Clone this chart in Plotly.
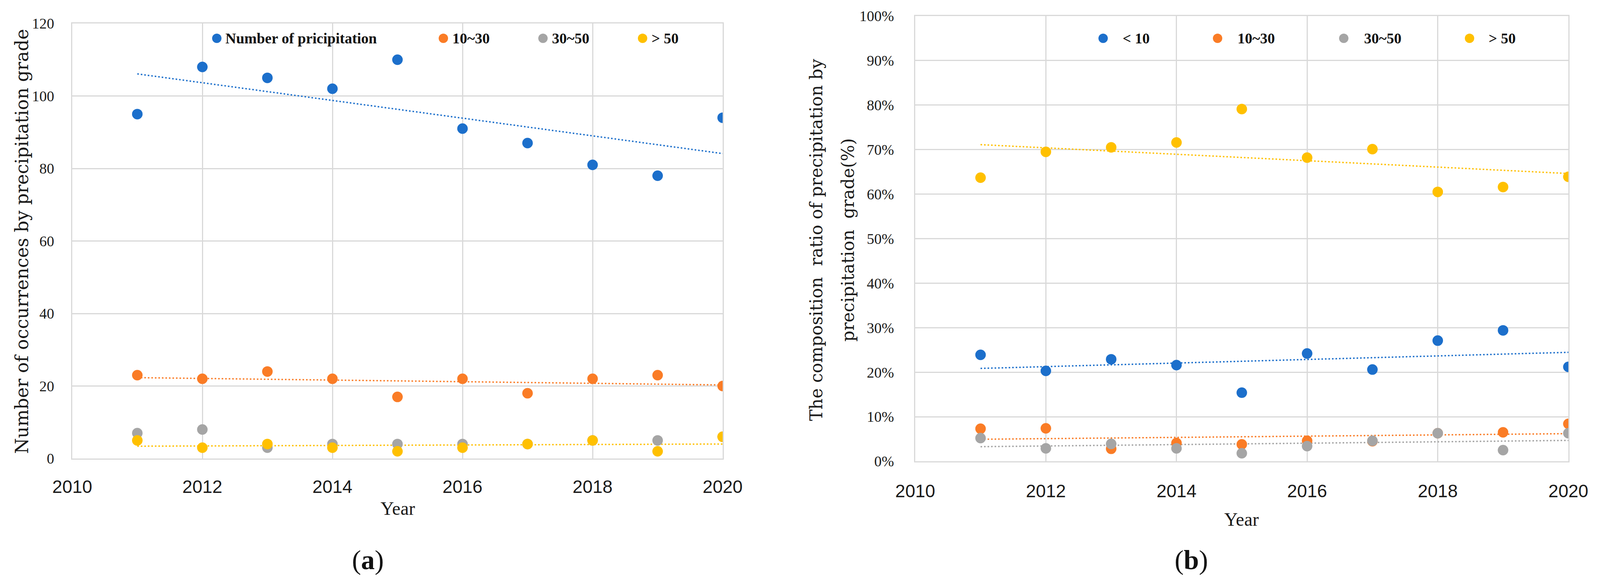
import numpy as np
import plotly.graph_objects as go

# screen size; the page's default body margin (8 px) offsets the figure,
# and a little slack at right/bottom avoids scrollbars
SW, SH = 4119, 1494
PAD = 8
W, H = SW - PAD - 16, SH - PAD - 16

years = [2011, 2012, 2013, 2014, 2015, 2016, 2017, 2018, 2019, 2020]

# (a) number of occurrences
count_total = [95, 108, 105, 102, 110, 91, 87, 81, 78, 94]
count_10_30 = [23, 22, 24, 22, 17, 22, 18, 22, 23, 20]
count_30_50 = [7, 8, 3, 4, 4, 4, 4, 5, 5, 6]
count_gt50 = [5, 3, 4, 3, 2, 3, 4, 5, 2, 6]

# (b) composition ratio (%)
ratio_lt10 = [23.9, 20.3, 22.9, 21.6, 15.4, 24.2, 20.6, 27.1, 29.4, 21.2]
ratio_10_30 = [7.3, 7.4, 2.8, 4.1, 3.8, 4.6, 4.5, 6.3, 6.5, 8.4]
ratio_30_50 = [5.2, 2.9, 3.9, 2.9, 1.8, 3.4, 4.6, 6.3, 2.5, 6.3]
ratio_gt50 = [63.7, 69.5, 70.5, 71.6, 79.1, 68.2, 70.1, 60.5, 61.6, 63.9]

legend_a = ["Number of pricipitation", "10~30", "30~50", "&gt; 50"]
legend_b = ["&lt; 10", "10~30", "30~50", "&gt; 50"]

BLUE = "#1C6FCB"
ORANGE = "#FA7C26"
GRAY = "#A5A5A5"
YELLOW = "#FFC000"
GRID = "#D9D9D9"

def px(x):
    return (x - PAD) / W

def py(y):
    return 1 - (y - PAD) / H

fig = go.Figure()

def add_points(vals, color, xa, ya):
    fig.add_trace(go.Scatter(
        x=years, y=vals, mode="markers", xaxis=xa, yaxis=ya,
        marker=dict(size=27, color=color, line=dict(width=0)),
        showlegend=False, hoverinfo="x+y"))

def add_trend(vals, color, xa, ya):
    k, b = np.polyfit(years, vals, 1)
    xs = [years[0], years[-1]]
    ys = [k * x + b for x in xs]
    fig.add_trace(go.Scatter(
        x=xs, y=ys, mode="lines", xaxis=xa, yaxis=ya,
        line=dict(color=color, width=3.5, dash="4px,5px"),
        showlegend=False, hoverinfo="skip"))

# panel (a)
add_trend(count_total, BLUE, "x", "y")
add_trend(count_10_30, ORANGE, "x", "y")
add_trend(count_gt50, YELLOW, "x", "y")
add_points(count_total, BLUE, "x", "y")
add_points(count_10_30, ORANGE, "x", "y")
add_points(count_30_50, GRAY, "x", "y")
add_points(count_gt50, YELLOW, "x", "y")

# panel (b)
add_trend(ratio_lt10, BLUE, "x2", "y2")
add_trend(ratio_10_30, ORANGE, "x2", "y2")
add_trend(ratio_30_50, GRAY, "x2", "y2")
add_trend(ratio_gt50, YELLOW, "x2", "y2")
add_points(ratio_lt10, BLUE, "x2", "y2")
add_points(ratio_10_30, ORANGE, "x2", "y2")
add_points(ratio_30_50, GRAY, "x2", "y2")
add_points(ratio_gt50, YELLOW, "x2", "y2")

xaxis_common = dict(
    range=[2010, 2020], dtick=2, tick0=2010, automargin=False,
    showgrid=True, gridcolor=GRID, gridwidth=2.5,
    showline=True, linecolor=GRID, linewidth=2.5, mirror=True,
    zeroline=False,
    ticks="outside", tickcolor="rgba(0,0,0,0)",
    tickfont=dict(family="Liberation Sans", size=46, color="#1a1a1a"),
)
yaxis_common = dict(
    showgrid=True, gridcolor=GRID, gridwidth=2.5, automargin=False,
    showline=True, linecolor=GRID, linewidth=2.5, mirror=True,
    zeroline=False,
    ticks="outside", tickcolor="rgba(0,0,0,0)",
    tickfont=dict(family="Liberation Serif", size=38, color="#1a1a1a"),
)

fig.update_layout(
    width=W, height=H,
    margin=dict(l=0, r=0, t=0, b=0, autoexpand=False),
    paper_bgcolor="white", plot_bgcolor="white",
    xaxis=dict(domain=[px(185), px(1850)], anchor="y", ticklen=30, **xaxis_common),
    yaxis=dict(domain=[py(1173), py(60)], anchor="x", range=[0, 120], dtick=20,
               ticklen=36, **yaxis_common),
    xaxis2=dict(domain=[px(2343), px(4015)], anchor="y2", ticklen=34, **xaxis_common),
    yaxis2=dict(domain=[py(1180), py(41)], anchor="x2", range=[0, 100], dtick=10,
                ticksuffix="%", ticklen=44, **yaxis_common),
)

ann = []
serif = "DejaVu Serif"

def text_at(x, y, text, font, angle=0, xanchor="center"):
    ann.append(dict(x=px(x), y=py(y), xref="paper", yref="paper", textangle=angle,
                    xanchor=xanchor, yanchor="middle", text=text, showarrow=False,
                    font=font))

# y titles
text_at(56, 618, "Number of occurrences by precipitation grade",
        dict(family=serif, size=46, color="#1a1a1a"), angle=-90)
text_at(2089, 614, "The composition  ratio of precipitation by",
        dict(family=serif, size=44, color="#1a1a1a"), angle=-90)
text_at(2170, 614, "precipitation  grade(%)",
        dict(family=serif, size=44, color="#1a1a1a"), angle=-90)
# x titles
text_at(1018, 1300, "Year", dict(family="Liberation Serif", size=48, color="#1a1a1a"))
text_at(3178, 1328, "Year", dict(family="Liberation Serif", size=48, color="#1a1a1a"))
# panel labels
text_at(942, 1432, "(<b>a</b>)", dict(family="Liberation Serif", size=70, color="#111"))
text_at(3050, 1432, "(<b>b</b>)", dict(family="Liberation Serif", size=70, color="#111"))

shapes = []
def legend_item(mx, tx, label, color, y=98):
    shapes.append(dict(type="circle", xref="paper", yref="paper",
                       xsizemode="pixel", ysizemode="pixel",
                       xanchor=px(mx), yanchor=py(y),
                       x0=-12, x1=12, y0=-12, y1=12,
                       fillcolor=color, line=dict(width=0)))
    text_at(tx, y, "<b>" + label + "</b>",
            dict(family="Liberation Serif", size=38, color="#111"), xanchor="left")

cols = [BLUE, ORANGE, GRAY, YELLOW]
for (mx, tx), lab, c in zip([(555, 575), (1135, 1156), (1390, 1411), (1645, 1666)], legend_a, cols):
    legend_item(mx, tx, lab, c)
for (mx, tx), lab, c in zip([(2824, 2872), (3117, 3166), (3440, 3490), (3762, 3809)], legend_b, cols):
    legend_item(mx, tx, lab, c)

fig.update_layout(annotations=ann, shapes=shapes)
fig.write_html("out.html")
